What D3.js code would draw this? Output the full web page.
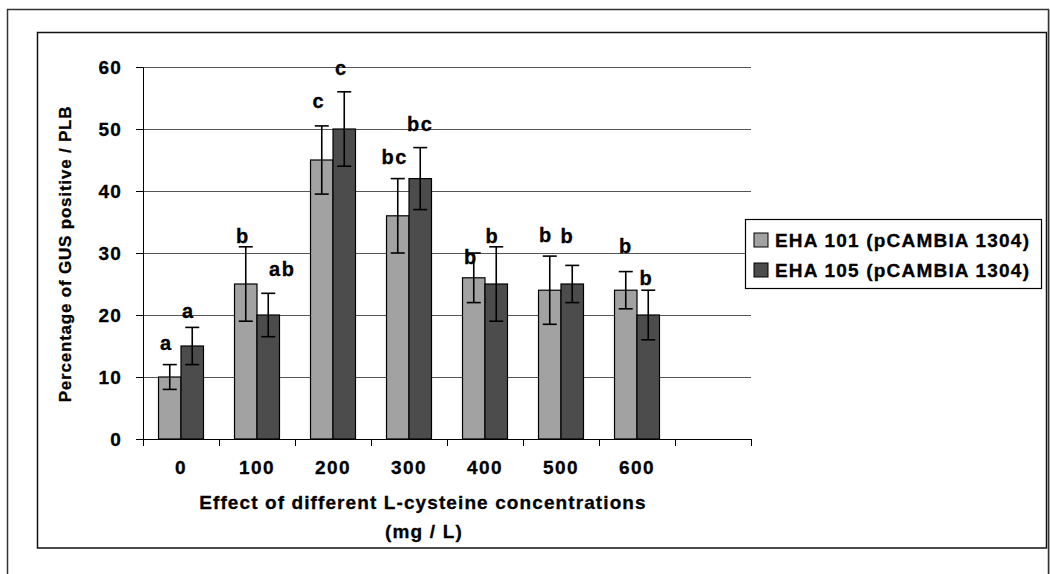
<!DOCTYPE html>
<html>
<head>
<meta charset="utf-8">
<script src="https://cdn.jsdelivr.net/npm/d3@7"></script>
<style>
  body { margin: 0; background: #fff; }
  svg { display: block; }
  text { font-family: "Liberation Sans", Arial, sans-serif; font-weight: bold; fill: #000; stroke: #000; stroke-width: 0.3px; }
</style>
</head>
<body>
<svg id="gus-chart" width="1050" height="574"></svg>
<script>
const categories = ["0", "100", "200", "300", "400", "500", "600"];
const seriesNames = ["EHA 101 (pCAMBIA 1304)", "EHA 105 (pCAMBIA 1304)"];
const eha101 = [10, 25, 45, 36, 26, 24, 24];
const eha105 = [15, 20, 50, 42, 25, 25, 20];
const eha101Err = [2, 6, 5.5, 6, 4, 5.5, 3];
const eha105Err = [3, 3.5, 6, 5, 6, 3, 4];
const eha101Letters = ["a", "b", "c", "bc", "b", "b", "b"];
const eha105Letters = ["a", "ab", "c", "bc", "b", "b", "b"];
const yTicks = [0, 10, 20, 30, 40, 50, 60];

(function gusChart() {
  const svg = d3.select("#gus-chart");
  const colors = ["#a2a2a2", "#4c4c4c"];

  // outer frame (cut off at bottom) and chart frame
  svg.append("rect").attr("x", 7.5).attr("y", 9.5).attr("width", 1041).attr("height", 600)
    .attr("fill", "none").attr("stroke", "#333").attr("stroke-width", 1.5);
  svg.append("line").attr("x1", 1049.5).attr("x2", 1049.5).attr("y1", 10).attr("y2", 574)
    .attr("stroke", "#aaa").attr("stroke-width", 1);
  svg.append("rect").attr("x", 37.5).attr("y", 32.5).attr("width", 1009).attr("height", 515.5)
    .attr("fill", "#fff").attr("stroke", "#111").attr("stroke-width", 1.5);

  const plot = { left: 143, right: 751, top: 67, bottom: 439 };

  const x = d3.scaleBand()
    .domain([...categories, ""])
    .range([plot.left, plot.right])
    .padding(0);

  const xInner = d3.scaleBand()
    .domain(seriesNames)
    .range([0, x.bandwidth()])
    .paddingInner(0)
    .paddingOuter(0.69);

  const y = d3.scaleLinear().domain([0, 60]).range([plot.bottom, plot.top]);

  // gridlines
  svg.append("g")
    .attr("transform", `translate(${plot.left},0)`)
    .call(d3.axisLeft(y).tickValues(yTicks.slice(1)).tickSize(-(plot.right - plot.left)).tickFormat(""))
    .call(g => g.select(".domain").remove())
    .call(g => g.selectAll("line").attr("stroke", "#555").attr("stroke-width", 1));

  // y axis
  svg.append("g")
    .attr("transform", `translate(${plot.left},0)`)
    .call(d3.axisLeft(y).tickValues(yTicks).tickSize(7).tickPadding(14).tickSizeOuter(0))
    .call(g => g.selectAll("text").style("font-size", "19px").style("letter-spacing", "1.2px"))
    .call(g => g.selectAll("line, .domain").attr("stroke", "#000"));

  const series = [
    { name: seriesNames[0], values: eha101, err: eha101Err, letters: eha101Letters },
    { name: seriesNames[1], values: eha105, err: eha105Err, letters: eha105Letters }
  ];

  // nudges [dx, dy] of the significance letters from the error-bar top
  const letterNudge = [
    [[-3.5, -15], [-3, -3.5], [-3, -17.5], [-3, -14.5], [-3, 11], [-4, -14.5], [0, -19]],
    [[-4, -9.5], [14, -17.5], [-3, -16.5], [0, -16.5], [-4, -4], [-5, -22.5], [-2, -5]]
  ];

  series.forEach((s, si) => {
    const rows = categories.map((c, i) => ({ cat: c, v: s.values[i], e: s.err[i], l: s.letters[i], i }));
    const cx = d => x(d.cat) + xInner(s.name) + xInner.bandwidth() / 2;
    const g = svg.append("g");

    g.selectAll("rect")
      .data(rows)
      .join("rect")
      .attr("x", d => x(d.cat) + xInner(s.name))
      .attr("y", d => y(d.v))
      .attr("width", xInner.bandwidth())
      .attr("height", d => y(0) - y(d.v))
      .attr("fill", colors[si])
      .attr("stroke", "#000")
      .attr("stroke-width", 1.2);

    g.selectAll("line.err")
      .data(rows)
      .join("line")
      .attr("class", "err")
      .attr("x1", cx).attr("x2", cx)
      .attr("y1", d => y(d.v + d.e)).attr("y2", d => y(d.v - d.e))
      .attr("stroke", "#000").attr("stroke-width", 1.6);

    [1, -1].forEach(sign => {
      g.selectAll(`line.cap${sign}`)
        .data(rows)
        .join("line")
        .attr("class", `cap${sign}`)
        .attr("x1", d => cx(d) - 7).attr("x2", d => cx(d) + 7)
        .attr("y1", d => y(d.v + sign * d.e)).attr("y2", d => y(d.v + sign * d.e))
        .attr("stroke", "#000").attr("stroke-width", 1.6);
    });

    g.selectAll("text.sig")
      .data(rows)
      .join("text")
      .attr("class", "sig")
      .attr("x", d => cx(d) + letterNudge[si][d.i][0])
      .attr("y", d => y(d.v + d.e) + letterNudge[si][d.i][1])
      .attr("text-anchor", "middle")
      .style("font-size", "20px")
      .style("letter-spacing", "1.5px")
      .text(d => d.l);
  });

  // x axis: tick marks between categories
  const xTickScale = d3.scaleLinear().domain([0, categories.length + 1]).range([plot.left, plot.right]);
  svg.append("g")
    .attr("transform", `translate(0,${plot.bottom})`)
    .call(d3.axisBottom(xTickScale).ticks(categories.length + 1).tickSize(7).tickFormat("").tickSizeOuter(0))
    .call(g => g.select(".domain").attr("d", `M${plot.left - 7},0.5H${plot.right}`))
    .call(g => g.selectAll("line, .domain").attr("stroke", "#000"));

  svg.append("g")
    .attr("transform", `translate(0,${plot.bottom})`)
    .call(d3.axisBottom(x).tickValues(categories).tickSize(0).tickPadding(22))
    .call(g => g.select(".domain").remove())
    .call(g => g.selectAll("text").style("font-size", "19px").style("letter-spacing", "1.5px"));

  // axis titles
  svg.append("text")
    .attr("x", 423).attr("y", 509)
    .attr("text-anchor", "middle")
    .style("font-size", "19px").style("letter-spacing", "1.1px")
    .text("Effect of different L-cysteine concentrations");
  svg.append("text")
    .attr("x", 424).attr("y", 538)
    .attr("text-anchor", "middle")
    .style("font-size", "19px").style("letter-spacing", "1.2px")
    .text("(mg / L)");

  svg.append("text")
    .attr("transform", "translate(71,254) rotate(-90)")
    .attr("text-anchor", "middle")
    .style("font-size", "17px").style("letter-spacing", "0.8px")
    .text("Percentage of GUS positive / PLB");

  // legend
  const legend = svg.append("g").attr("transform", "translate(745,219)");
  legend.append("rect").attr("x", 0.5).attr("y", 0.5).attr("width", 296).attr("height", 69)
    .attr("fill", "#fff").attr("stroke", "#000").attr("stroke-width", 1.2);
  const items = legend.selectAll("g.item")
    .data(series)
    .join("g")
    .attr("class", "item")
    .attr("transform", (d, i) => `translate(9,${14 + i * 30})`);
  items.append("rect")
    .attr("width", 14).attr("height", 14)
    .attr("fill", (d, i) => colors[i])
    .attr("stroke", "#000").attr("stroke-width", 1);
  items.append("text")
    .attr("x", 21).attr("y", 14)
    .style("font-size", "19px").style("letter-spacing", "1.2px")
    .text(d => d.name);
})();
</script>
</body>
</html>
